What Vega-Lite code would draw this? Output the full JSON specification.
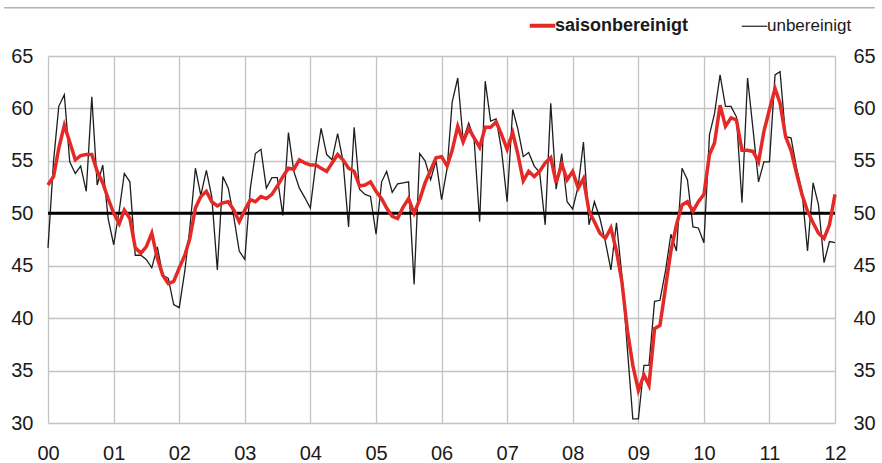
{
  "$schema": "https://vega.github.io/schema/vega-lite/v6.json",
  "width": 787,
  "height": 367,
  "autosize": "none",
  "padding": {"left": 48, "top": 56, "right": 47, "bottom": 40},
  "background": "white",
  "config": {
    "view": {"stroke": null},
    "font": "Liberation Sans",
    "axis": {"labelFontSize": 20, "labelFont": "Liberation Sans", "labelColor": "#1a1a1a", "ticks": false, "domain": false, "gridColor": "#c3c3c3", "gridWidth": 1.3, "title": null}
  },
  "data": {
    "format": {"parse": {"d": "date:'%Y-%m'"}},
    "values": [
      {"d":"2000-01","s":52.7,"u":46.7},{"d":"2000-02","s":53.5,"u":55.0},{"d":"2000-03","s":56.2,"u":60.2},{"d":"2000-04","s":58.4,"u":61.3},{"d":"2000-05","s":56.8,"u":54.9},{"d":"2000-06","s":55.1,"u":53.8},{"d":"2000-07","s":55.5,"u":54.5},{"d":"2000-08","s":55.6,"u":52.1},{"d":"2000-09","s":55.6,"u":61.1},{"d":"2000-10","s":54.0,"u":52.7},{"d":"2000-11","s":52.9,"u":54.6},{"d":"2000-12","s":51.4,"u":49.5},
      {"d":"2001-01","s":50.0,"u":47.0},{"d":"2001-02","s":49.0,"u":50.3},{"d":"2001-03","s":50.3,"u":53.8},{"d":"2001-04","s":49.5,"u":53.0},{"d":"2001-05","s":46.7,"u":46.0},{"d":"2001-06","s":46.2,"u":46.0},{"d":"2001-07","s":46.8,"u":45.6},{"d":"2001-08","s":48.1,"u":44.8},{"d":"2001-09","s":45.7,"u":46.8},{"d":"2001-10","s":44.1,"u":44.1},{"d":"2001-11","s":43.3,"u":43.8},{"d":"2001-12","s":43.5,"u":41.3},
      {"d":"2002-01","s":44.8,"u":41.0},{"d":"2002-02","s":46.0,"u":44.5},{"d":"2002-03","s":47.6,"u":48.6},{"d":"2002-04","s":50.5,"u":54.3},{"d":"2002-05","s":51.6,"u":51.7},{"d":"2002-06","s":52.1,"u":54.1},{"d":"2002-07","s":51.1,"u":51.6},{"d":"2002-08","s":50.7,"u":44.6},{"d":"2002-09","s":51.0,"u":53.5},{"d":"2002-10","s":51.1,"u":52.4},{"d":"2002-11","s":50.3,"u":49.6},{"d":"2002-12","s":49.2,"u":46.4},
      {"d":"2003-01","s":50.3,"u":45.6},{"d":"2003-02","s":51.3,"u":52.4},{"d":"2003-03","s":51.1,"u":55.7},{"d":"2003-04","s":51.6,"u":56.1},{"d":"2003-05","s":51.4,"u":52.4},{"d":"2003-06","s":51.8,"u":53.4},{"d":"2003-07","s":52.6,"u":53.4},{"d":"2003-08","s":53.5,"u":49.8},{"d":"2003-09","s":54.3,"u":57.7},{"d":"2003-10","s":54.2,"u":54.0},{"d":"2003-11","s":55.1,"u":52.4},{"d":"2003-12","s":54.8,"u":51.5},
      {"d":"2004-01","s":54.6,"u":50.5},{"d":"2004-02","s":54.6,"u":54.8},{"d":"2004-03","s":54.3,"u":58.1},{"d":"2004-04","s":54.0,"u":55.6},{"d":"2004-05","s":54.8,"u":55.1},{"d":"2004-06","s":55.6,"u":57.6},{"d":"2004-07","s":55.1,"u":55.0},{"d":"2004-08","s":54.3,"u":48.7},{"d":"2004-09","s":54.0,"u":58.2},{"d":"2004-10","s":52.6,"u":52.3},{"d":"2004-11","s":52.7,"u":51.8},{"d":"2004-12","s":53.0,"u":51.6},
      {"d":"2005-01","s":52.1,"u":48.0},{"d":"2005-02","s":51.4,"u":53.0},{"d":"2005-03","s":50.5,"u":54.0},{"d":"2005-04","s":49.7,"u":52.0},{"d":"2005-05","s":49.5,"u":52.8},{"d":"2005-06","s":50.6,"u":52.9},{"d":"2005-07","s":51.4,"u":53.0},{"d":"2005-08","s":50.0,"u":43.2},{"d":"2005-09","s":51.3,"u":55.7},{"d":"2005-10","s":52.9,"u":55.0},{"d":"2005-11","s":54.1,"u":53.2},{"d":"2005-12","s":55.3,"u":55.0},
      {"d":"2006-01","s":55.4,"u":51.3},{"d":"2006-02","s":54.5,"u":54.3},{"d":"2006-03","s":56.0,"u":60.6},{"d":"2006-04","s":58.3,"u":62.9},{"d":"2006-05","s":56.8,"u":57.0},{"d":"2006-06","s":58.1,"u":58.6},{"d":"2006-07","s":57.2,"u":57.1},{"d":"2006-08","s":56.3,"u":49.2},{"d":"2006-09","s":58.2,"u":62.6},{"d":"2006-10","s":58.2,"u":58.8},{"d":"2006-11","s":58.7,"u":59.0},{"d":"2006-12","s":57.5,"u":56.0},
      {"d":"2007-01","s":56.1,"u":51.1},{"d":"2007-02","s":57.7,"u":59.9},{"d":"2007-03","s":55.7,"u":58.1},{"d":"2007-04","s":53.1,"u":55.4},{"d":"2007-05","s":54.0,"u":55.8},{"d":"2007-06","s":53.5,"u":54.5},{"d":"2007-07","s":54.0,"u":53.9},{"d":"2007-08","s":54.8,"u":48.9},{"d":"2007-09","s":55.3,"u":60.5},{"d":"2007-10","s":52.9,"u":52.3},{"d":"2007-11","s":54.7,"u":55.7},{"d":"2007-12","s":53.2,"u":51.1},
      {"d":"2008-01","s":54.0,"u":50.4},{"d":"2008-02","s":52.4,"u":52.6},{"d":"2008-03","s":53.3,"u":56.8},{"d":"2008-04","s":50.2,"u":48.9},{"d":"2008-05","s":49.2,"u":51.1},{"d":"2008-06","s":48.1,"u":49.5},{"d":"2008-07","s":47.6,"u":47.3},{"d":"2008-08","s":48.6,"u":44.6},{"d":"2008-09","s":46.4,"u":49.1},{"d":"2008-10","s":43.5,"u":44.1},{"d":"2008-11","s":38.8,"u":37.0},{"d":"2008-12","s":35.5,"u":30.4},
      {"d":"2009-01","s":33.1,"u":30.4},{"d":"2009-02","s":34.6,"u":35.5},{"d":"2009-03","s":33.6,"u":35.5},{"d":"2009-04","s":39.0,"u":41.6},{"d":"2009-05","s":39.3,"u":41.7},{"d":"2009-06","s":42.9,"u":44.5},{"d":"2009-07","s":46.4,"u":48.0},{"d":"2009-08","s":48.9,"u":46.4},{"d":"2009-09","s":50.8,"u":54.3},{"d":"2009-10","s":51.1,"u":53.2},{"d":"2009-11","s":50.2,"u":48.7},{"d":"2009-12","s":51.1,"u":48.6},
      {"d":"2010-01","s":51.8,"u":47.2},{"d":"2010-02","s":55.6,"u":57.5},{"d":"2010-03","s":56.7,"u":59.5},{"d":"2010-04","s":60.3,"u":63.2},{"d":"2010-05","s":58.3,"u":60.2},{"d":"2010-06","s":59.1,"u":60.2},{"d":"2010-07","s":58.9,"u":59.2},{"d":"2010-08","s":56.0,"u":51.0},{"d":"2010-09","s":56.0,"u":62.9},{"d":"2010-10","s":55.9,"u":58.1},{"d":"2010-11","s":54.9,"u":53.0},{"d":"2010-12","s":57.8,"u":54.9},
      {"d":"2011-01","s":59.9,"u":54.9},{"d":"2011-02","s":61.9,"u":63.2},{"d":"2011-03","s":60.5,"u":63.5},{"d":"2011-04","s":57.3,"u":57.3},{"d":"2011-05","s":56.0,"u":57.2},{"d":"2011-06","s":53.8,"u":54.3},{"d":"2011-07","s":51.8,"u":52.1},{"d":"2011-08","s":50.2,"u":46.4},{"d":"2011-09","s":49.1,"u":52.9},{"d":"2011-10","s":48.1,"u":50.8},{"d":"2011-11","s":47.6,"u":45.3},{"d":"2011-12","s":48.9,"u":47.3},
      {"d":"2012-01","s":51.8,"u":47.2}
    ]
  },
  "resolve": {"scale": {"y": "shared"}, "axis": {"y": "independent"}},
  "layer": [
    {
      "mark": {"type": "line", "strokeWidth": 1.3},
      "encoding": {
        "x": {"field": "d", "type": "temporal",
              "scale": {"domain": [{"year": 2000, "month": 1, "date": 1}, {"year": 2012, "month": 1, "date": 1}]},
              "axis": {"format": "%y", "grid": true, "labelPadding": 20, "labelOverlap": false, "labelFlush": false,
                       "tickCount": {"interval": "year", "step": 1}}},
        "y": {"field": "u", "type": "quantitative", "scale": {"domain": [30, 65]},
              "axis": {"orient": "left", "grid": true, "values": [30, 35, 40, 45, 50, 55, 60, 65], "labelPadding": 15}},
        "color": {"datum": "unbereinigt", "type": "nominal",
                  "scale": {"domain": ["saisonbereinigt", "unbereinigt"], "range": ["#e42a27", "#1e1e1e"]},
                  "legend": {"orient": "none", "legendX": 486, "legendY": -39, "direction": "horizontal", "title": null,
                             "symbolType": "stroke", "symbolSize": 650, "symbolStrokeWidth": 3,
                             "labelFontSize": 18, "labelFont": "Liberation Sans", "labelColor": "#1a1a1a",
                             "labelOffset": 4, "columnPadding": 50,
                             "encode": {
                               "symbols": {"update": {"strokeWidth": {"signal": "datum.value === 'saisonbereinigt' ? 4 : 1.2"}}},
                               "labels": {"update": {"fontWeight": {"signal": "datum.value === 'saisonbereinigt' ? 'bold' : 'normal'"},
                                                     "fontSize": {"signal": "datum.value === 'saisonbereinigt' ? 18 : 17"}}}
                             }}}
      }
    },
    {
      "data": {"values": [{}]},
      "mark": {"type": "rule", "color": "#000000", "strokeWidth": 3},
      "encoding": {
        "y": {"datum": 50, "type": "quantitative", "axis": null}
      }
    },
    {
      "mark": {"type": "line", "strokeWidth": 3.5},
      "encoding": {
        "x": {"field": "d", "type": "temporal"},
        "y": {"field": "s", "type": "quantitative",
              "axis": {"orient": "right", "grid": false, "values": [30, 35, 40, 45, 50, 55, 60, 65], "labelPadding": 18}},
        "color": {"datum": "saisonbereinigt", "type": "nominal", "legend": null}
      }
    },
    {
      "data": {"values": [{}]},
      "mark": {"type": "rule", "color": "#b4b4b4", "strokeWidth": 1.5, "clip": false},
      "encoding": {
        "x": {"datum": {"year": 1999, "month": 5, "date": 1}, "type": "temporal"},
        "x2": {"datum": {"year": 2012, "month": 8, "date": 10}},
        "y": {"datum": 69.6, "type": "quantitative", "axis": null}
      }
    }
  ]
}
